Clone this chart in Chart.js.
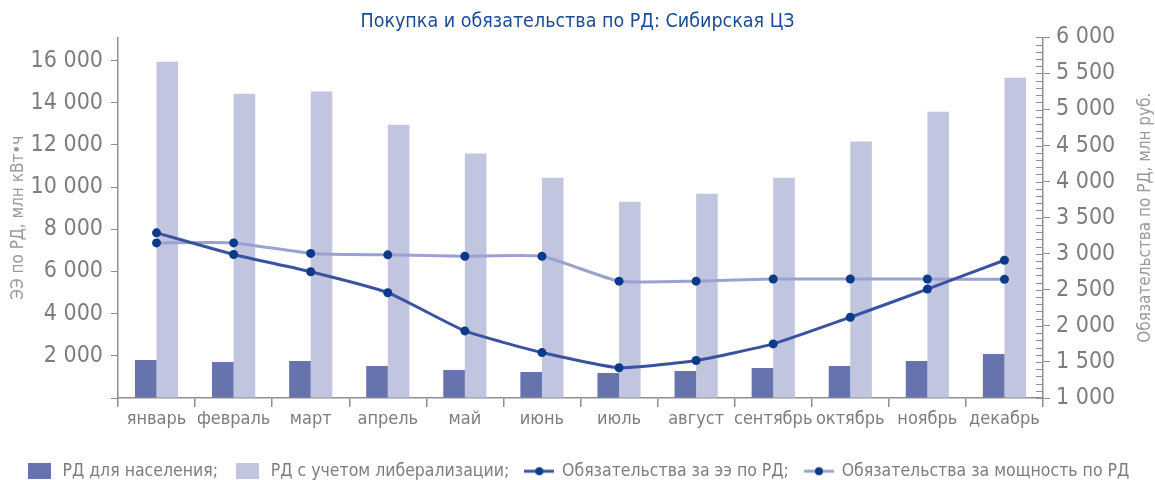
<!DOCTYPE html>
<html>
<head>
<meta charset="utf-8">
<script src="https://cdn.jsdelivr.net/npm/chart.js"></script>
<style>
  html, body { margin: 0; padding: 0; background: #fff; }
  #outer { width: 1155px; height: 480px; overflow: hidden; }
  #inner { width: 1155px; height: 490px; position: relative; }
</style>
</head>
<body>
<div id="outer"><div id="inner"><canvas id="myChart"></canvas></div></div>
<script>
const months = ['январь','февраль','март','апрель','май','июнь','июль','август','сентябрь','октябрь','ноябрь','декабрь'];
const rdPopulation = [1800, 1710, 1760, 1520, 1330, 1230, 1190, 1280, 1420, 1520, 1760, 2090];
const rdLiberal = [15950, 14430, 14530, 12960, 11590, 10450, 9310, 9690, 10450, 12160, 13580, 15190];
const oblEnergy = [3290, 2990, 2750, 2460, 1930, 1630, 1420, 1520, 1750, 2120, 2510, 2910];
const oblPower = [3150, 3150, 3005, 2985, 2965, 2965, 2620, 2620, 2650, 2650, 2650, 2645];
const leftTicks = [0, 2000, 4000, 6000, 8000, 10000, 12000, 14000, 16000];

const font = "'DejaVu Sans Condensed', 'Liberation Sans Narrow', Roboto, sans-serif";
const grey = '#7d7d7d';
const axisGrey = '#8f8f8f';
const darkBar = '#6673ad';
const lightBar = '#c1c5e0';
const darkLine = '#3b52a0';
const lightLine = '#9ba2d1';
const dotColor = '#0c3a8a';

function fmt(v) {
  return String(v).replace(/\B(?=(\d{3})+(?!\d))/g, ' ');
}

function boxIcon(color) {
  const c = document.createElement('canvas');
  c.width = 23; c.height = 16;
  const g = c.getContext('2d');
  g.fillStyle = color;
  g.fillRect(0, 0, 23, 16);
  return c;
}

function lineIcon(color) {
  const c = document.createElement('canvas');
  c.width = 30; c.height = 10;
  const g = c.getContext('2d');
  g.strokeStyle = color;
  g.lineWidth = 3;
  g.beginPath(); g.moveTo(0, 5); g.lineTo(30, 5); g.stroke();
  g.fillStyle = dotColor;
  g.beginPath(); g.arc(15, 5, 4, 0, Math.PI * 2); g.fill();
  return c;
}

const icons = [boxIcon(darkBar), boxIcon(lightBar), lineIcon(darkLine), lineIcon(lightLine)];

// inner minor ticks on the right axis + right axis title reading upward
const rightAxisExtras = {
  id: 'rightAxisExtras',
  afterDraw(chart) {
    const s = chart.scales.y1;
    const ctx = chart.ctx;
    ctx.save();
    ctx.strokeStyle = axisGrey;
    ctx.lineWidth = 1;
    s.ticks.forEach(t => {
      const y = Math.round(s.getPixelForValue(t.value)) + 0.5;
      ctx.beginPath();
      ctx.moveTo(s.left - 7, y);
      ctx.lineTo(s.left, y);
      ctx.stroke();
    });
    ctx.translate(1146, (chart.chartArea.top + chart.chartArea.bottom) / 2);
    ctx.rotate(-Math.PI / 2);
    ctx.fillStyle = '#9a9a9a';
    ctx.font = '17px ' + font;
    ctx.textAlign = 'center';
    ctx.textBaseline = 'middle';
    ctx.fillText('Обязательства по РД, млн руб.', 0, 0);
    ctx.restore();
  }
};

new Chart(document.getElementById('myChart'), {
  type: 'bar',
  data: {
    labels: months,
    datasets: [
      {
        label: 'РД для населения;',
        data: rdPopulation,
        backgroundColor: darkBar,
        yAxisID: 'y',
        order: 2,
        categoryPercentage: 0.56,
        barPercentage: 1.0
      },
      {
        label: 'РД с учетом либерализации;',
        data: rdLiberal,
        backgroundColor: lightBar,
        yAxisID: 'y',
        order: 2,
        categoryPercentage: 0.56,
        barPercentage: 1.0
      },
      {
        type: 'line',
        label: 'Обязательства за ээ по РД;',
        data: oblEnergy,
        borderColor: darkLine,
        borderWidth: 3,
        pointBackgroundColor: dotColor,
        pointBorderWidth: 0,
        pointRadius: 4.5,
        tension: 0.15,
        yAxisID: 'y1',
        order: 1
      },
      {
        type: 'line',
        label: 'Обязательства за мощность по РД',
        data: oblPower,
        borderColor: lightLine,
        borderWidth: 3,
        pointBackgroundColor: dotColor,
        pointBorderWidth: 0,
        pointRadius: 4.5,
        tension: 0.15,
        yAxisID: 'y1',
        order: 1
      }
    ]
  },
  plugins: [rightAxisExtras],
  options: {
    responsive: true,
    maintainAspectRatio: false,
    animation: false,
    layout: { padding: 0 },
    plugins: {
      title: {
        display: true,
        text: 'Покупка и обязательства по РД: Сибирская ЦЗ',
        color: '#1c4a94',
        font: { family: font, size: 19.5, weight: 'normal' },
        padding: { top: 10, bottom: 4 }
      },
      legend: {
        position: 'bottom',
        labels: {
          usePointStyle: true,
          pointStyleWidth: 28,
          boxHeight: 16,
          padding: 16,
          color: grey,
          font: { family: font, size: 17.5 },
          generateLabels: chart => chart.data.datasets.map((ds, i) => ({
            text: ds.label,
            pointStyle: icons[i],
            fillStyle: 'transparent',
            strokeStyle: 'transparent',
            lineWidth: 0,
            hidden: false,
            datasetIndex: i,
            fontColor: grey
          }))
        }
      },
      tooltip: { enabled: false }
    },
    scales: {
      x: {
        grid: {
          offset: true,
          drawOnChartArea: false,
          tickLength: 9,
          color: axisGrey,
          lineWidth: 1.5
        },
        border: { color: axisGrey, width: 1.5 },
        ticks: {
          color: grey,
          font: { family: font, size: 18 },
          padding: 2,
          maxRotation: 0,
          autoSkip: false
        },
        afterFit: s => { s.height = 490 - s.chart.legend.height - 398; }
      },
      y: {
        position: 'left',
        min: 0,
        max: 17100,
        afterBuildTicks: s => { s.ticks = leftTicks.map(v => ({ value: v })); },
        ticks: {
          autoSkip: false,
          color: grey,
          font: { family: font, size: 23 },
          padding: 8,
          callback: v => (v === 0 ? '' : fmt(v))
        },
        grid: { drawOnChartArea: false, tickLength: 7, color: axisGrey, lineWidth: 1 },
        border: { color: axisGrey, width: 1.5 },
        title: {
          display: true,
          text: 'ЭЭ по РД, млн кВт•ч',
          color: '#9a9a9a',
          font: { family: font, size: 17 },
          padding: { top: 8, bottom: 0 }
        },
        afterFit: s => { s.width = 118; }
      },
      y1: {
        position: 'right',
        min: 1000,
        max: 6000,
        ticks: {
          stepSize: 100,
          autoSkip: false,
          color: grey,
          font: { family: font, size: 23 },
          padding: 6,
          callback: v => (v % 500 === 0 ? fmt(v) : '')
        },
        grid: {
          drawOnChartArea: false,
          tickLength: 7,
          lineWidth: 1,
          tickColor: c => (c.tick && c.tick.value % 500 === 0 ? axisGrey : 'rgba(0,0,0,0)')
        },
        border: { color: axisGrey, width: 1.5 },
        afterFit: s => { s.width = 112; }
      }
    }
  }
});
</script>
</body>
</html>
